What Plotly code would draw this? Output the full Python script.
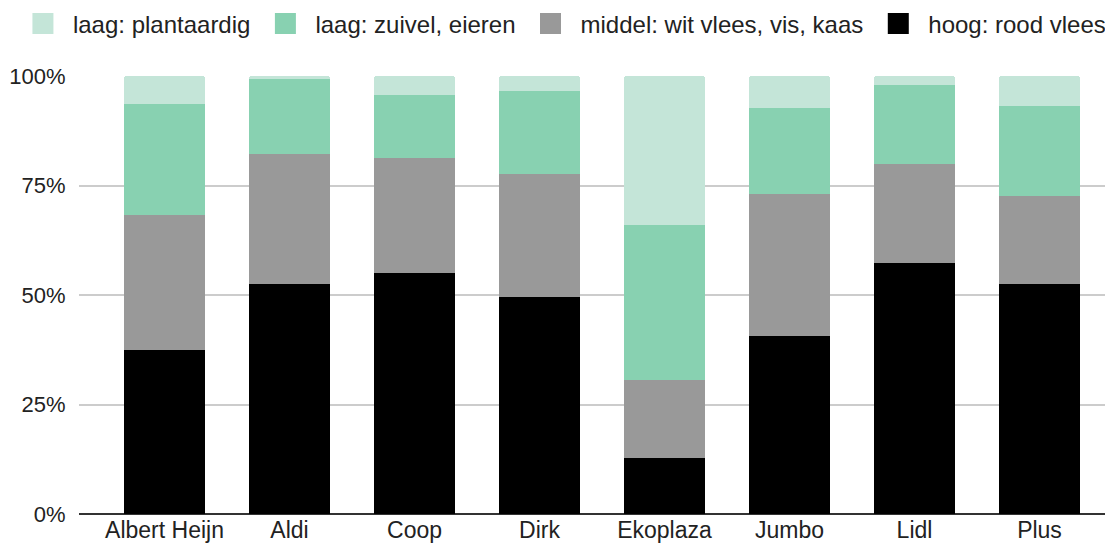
import plotly.graph_objects as go

categories = ["Albert Heijn", "Aldi", "Coop", "Dirk", "Ekoplaza", "Jumbo", "Lidl", "Plus"]
hoog_rood_vlees = [37.4, 52.4, 55.0, 49.6, 12.9, 40.6, 57.3, 52.4]
middel_wit_vlees = [30.8, 29.8, 26.3, 28.0, 17.7, 32.5, 22.7, 20.3]
laag_zuivel = [25.3, 17.2, 14.4, 19.0, 35.4, 19.5, 18.0, 20.4]
laag_plantaardig = [6.5, 0.6, 4.3, 3.4, 34.0, 7.4, 2.0, 6.9]

series = [
    ("hoog: rood vlees", hoog_rood_vlees, "#000000"),
    ("middel: wit vlees, vis, kaas", middel_wit_vlees, "#999999"),
    ("laag: zuivel, eieren", laag_zuivel, "#88d1b1"),
    ("laag: plantaardig", laag_plantaardig, "#c4e5d8"),
]

FONT = "Arial, Liberation Sans, sans-serif"
TXT = "#222222"

fig = go.Figure()
for name, vals, col in series:
    fig.add_trace(go.Bar(x=categories, y=vals, name=name, showlegend=False,
                         marker=dict(color=col, line=dict(width=0))))
# legend entries (square swatches)
for name, vals, col in series:
    fig.add_trace(go.Scatter(x=[None], y=[None], mode="markers", name=name,
                             marker=dict(symbol="square", size=16, color=col,
                                         line=dict(color=col, width=5))))

# The page body has an 8px margin; sizes below compensate for it.
fig.update_layout(
    barmode="stack",
    bargap=0.352,
    barcornerradius=3,
    width=1105, height=541,
    margin=dict(l=71, r=0, t=68, b=35, autoexpand=False),
    plot_bgcolor="white", paper_bgcolor="white",
    font=dict(family=FONT, size=22, color=TXT),
    showlegend=True,
    legend=dict(orientation="h", traceorder="reversed",
                x=-0.0639, xref="paper", xanchor="left",
                y=1.1187, yref="paper", yanchor="middle",
                font=dict(family=FONT, size=24, color=TXT),
                itemwidth=50, itemclick=False, tracegroupgap=0),
)
fig.update_xaxes(range=[-0.684, 7.588], showgrid=False, ticks="",
                 showline=False, tickfont=dict(size=23, color=TXT))
fig.update_yaxes(range=[0, 100], dtick=25, ticksuffix="%", showgrid=True,
                 gridcolor="#cccccc", gridwidth=2, zeroline=True,
                 zerolinecolor="#333333", zerolinewidth=2, ticks="outside",
                 ticklen=8, tickcolor="rgba(0,0,0,0)",
                 tickfont=dict(size=22, color=TXT))

fig.write_html("out.html")
